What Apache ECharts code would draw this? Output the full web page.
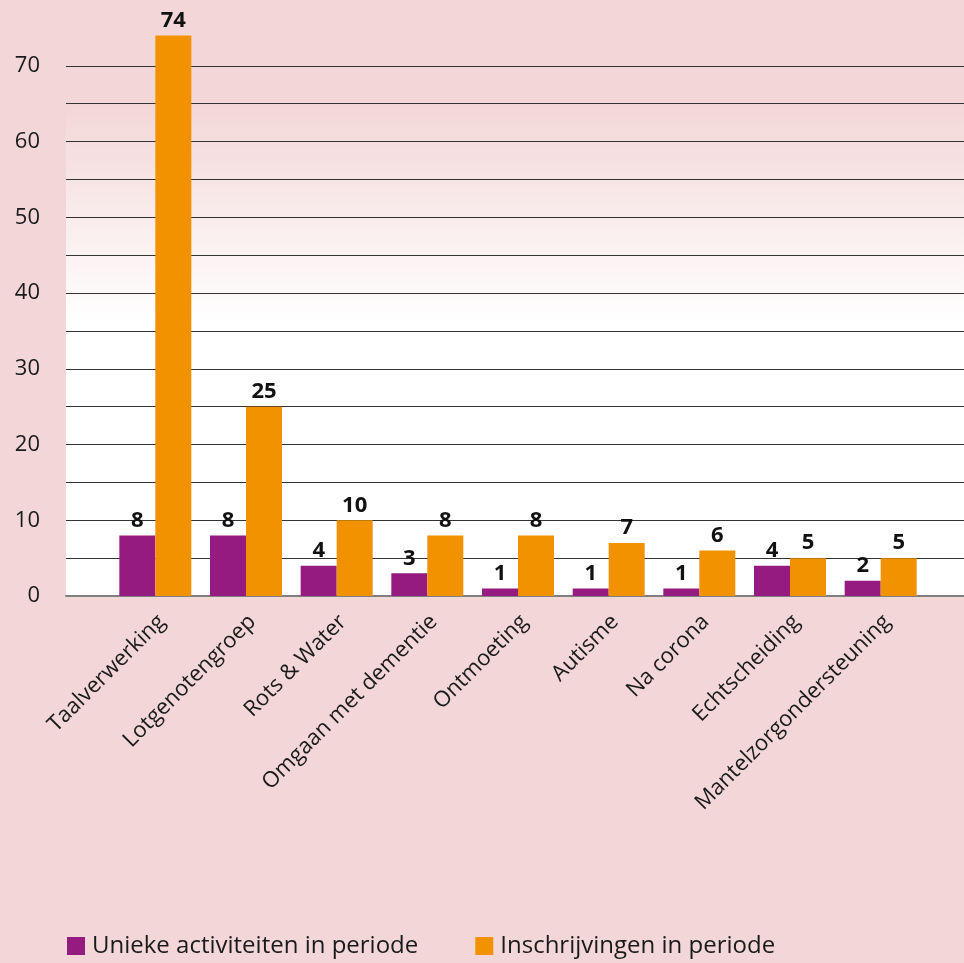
<!DOCTYPE html>
<html>
<head>
<meta charset="utf-8">
<script src="https://cdn.jsdelivr.net/npm/echarts@6/dist/echarts.min.js"></script>
<style>
  html, body { margin: 0; padding: 0; background: #f3d7d8; }
  #chart { width: 964px; height: 963px; }
</style>
</head>
<body>
<div id="chart"></div>
<script>
// Activities per category
var categories = ['Taalverwerking', 'Lotgenotengroep', 'Rots & Water', 'Omgaan met dementie',
  'Ontmoeting', 'Autisme', 'Na corona', 'Echtscheiding', 'Mantelzorgondersteuning'];
var uniekeActiviteiten = [8, 8, 4, 3, 1, 1, 1, 4, 2];
var inschrijvingen = [74, 25, 10, 8, 8, 7, 6, 5, 5];
var seriesNames = ['Unieke activiteiten in periode', 'Inschrijvingen in periode'];
var yTicksLabelled = [0, 10, 20, 30, 40, 50, 60, 70];

var PINK = '#f3d7d8';
var FONT = '"Open Sans", "Noto Sans", sans-serif';
var Y_MAX = 75;

var chart = echarts.init(document.getElementById('chart'));

var labelStyle = {
  show: true,
  position: 'top',
  distance: 4,
  fontFamily: FONT,
  fontWeight: 'bold',
  fontSize: 22,
  color: '#111'
};

chart.setOption({
  backgroundColor: PINK,
  animation: false,
  grid: [
    {
      // full-width grid carrying the value axis and its gridlines
      left: 66, right: 0, top: 28, bottom: 367,
      show: true,
      borderWidth: 0,
      backgroundColor: new echarts.graphic.LinearGradient(0, 0, 0, 1, [
        { offset: 0, color: PINK },
        { offset: 0.135, color: PINK },
        { offset: 0.52, color: '#ffffff' },
        { offset: 1, color: '#ffffff' }
      ])
    },
    {
      // narrower grid carrying the categories and bars
      left: 110, right: 38, top: 28, bottom: 367
    }
  ],
  xAxis: [
    {
      gridIndex: 0, type: 'value', min: 0, max: 1,
      axisLine: { show: true, lineStyle: { color: '#808080', width: 2 } },
      axisTick: { show: false },
      axisLabel: { show: false },
      splitLine: { show: false }
    },
    {
      gridIndex: 1, type: 'category', data: categories,
      axisLine: { show: false },
      axisTick: { show: false },
      axisLabel: {
        interval: 0,
        rotate: 45,
        margin: 16,
        verticalAlign: 'top',
        lineHeight: 18,
        fontFamily: FONT,
        fontSize: 22,
        color: '#1a1a1a'
      }
    }
  ],
  yAxis: [
    {
      gridIndex: 0, type: 'value', min: 0, max: Y_MAX, interval: 5,
      axisLine: { show: false },
      axisTick: { show: false },
      axisLabel: {
        margin: 26,
        fontFamily: FONT,
        fontSize: 22,
        color: '#1a1a1a',
        formatter: function (v) {
          return yTicksLabelled.indexOf(v) >= 0 ? String(v) : '';
        }
      },
      splitLine: {
        show: true,
        showMinLine: false,
        showMaxLine: false,
        lineStyle: { color: '#333333', width: 1 }
      }
    },
    {
      gridIndex: 1, type: 'value', min: 0, max: Y_MAX,
      show: false,
      splitLine: { show: false }
    }
  ],
  legend: {
    left: 67,
    top: 934,
    padding: 0,
    itemWidth: 18,
    itemHeight: 18,
    itemGap: 57,
    icon: 'rect',
    textStyle: {
      fontFamily: FONT,
      fontSize: 24,
      color: '#1a1a1a',
      padding: [0, 0, 0, 2]
    },
    data: seriesNames
  },
  series: [
    {
      name: seriesNames[0],
      type: 'bar',
      xAxisIndex: 1, yAxisIndex: 1,
      data: uniekeActiviteiten,
      barWidth: 36,
      barGap: '0%',
      itemStyle: { color: '#951b81' },
      label: labelStyle
    },
    {
      name: seriesNames[1],
      type: 'bar',
      xAxisIndex: 1, yAxisIndex: 1,
      data: inschrijvingen,
      barWidth: 36,
      barGap: '0%',
      itemStyle: { color: '#f39200' },
      label: labelStyle
    }
  ]
});
</script>
</body>
</html>
